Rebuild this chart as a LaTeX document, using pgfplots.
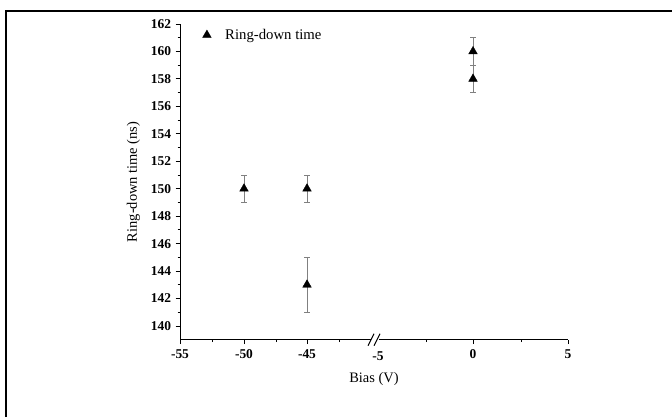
\documentclass[border=0pt]{standalone}
\usepackage{fontspec}
\setmainfont{Liberation Serif}
\usepackage{pgfplots}
\pgfplotsset{compat=1.18}
\begin{document}
\begin{tikzpicture}[x=1bp,y=1bp]
\useasboundingbox (0,0) rectangle (672,417);
\draw[line width=2.2bp] (6,0) -- (6,406) -- (672,406);
\begin{axis}[
  at={(180bp,77.3bp)}, anchor=south west,
  scale only axis, width=388bp, height=315.7bp,
  xmin=0, xmax=388, ymin=139, ymax=162,
  axis x line*=bottom, axis y line*=left,
  axis line style={line width=1bp},
  tick align=outside,
  major tick length=4.5bp, minor tick length=2.5bp,
  tick style={black, line width=0.9bp},
  xtick={0,64,127,293,388},
  xticklabels={-55,-50,-45,0,5},
  minor xtick={32,96,159,246,341},
  extra x ticks={198}, extra x tick labels={-5},
  extra x tick style={major tick length=0pt, xticklabel style={yshift=-7bp}},
  ytick={140,142,...,162},
  minor y tick num=1,
  /pgf/number format/assume math mode=true,
  ticklabel style={font=\bfseries\fontsize{13.5}{15}\selectfont},
  xticklabel style={yshift=-1.5bp},
  yticklabel style={xshift=-1bp},
  xlabel={Bias (V)}, ylabel={Ring-down time (ns)},
  label style={font=\fontsize{14.5}{17}\selectfont},
  xlabel style={at={(axis description cs:0.5,-0.125)}, anchor=center},
  ylabel style={at={(axis description cs:-0.12,0.5)}, anchor=center},
  legend style={at={(axis description cs:0.05,0.965)}, anchor=west, draw=none, fill=none,
    font=\fontsize{14.8}{17}\selectfont, legend cell align=left},
  clip=false,
]
\addplot[only marks, mark=triangle*, mark size=5bp, black,
  error bars/.cd, y dir=both, y explicit,
  error bar style={gray, line width=0.8bp},
  error mark options={rotate=90, mark size=2.8bp, gray, line width=0.8bp}]
  table[x=u, y=t, y error=e] {
  u   t    e
  64  150  1
  127 150  1
  127 143  2
  293 160  1
  293 158  1
  };
\addlegendentry{\hspace{12bp}Ring-down time}
\coordinate (B) at (axis cs:195,139);
\end{axis}
\fill[white] ([xshift=-4bp,yshift=-1.5bp]B) rectangle ([xshift=4bp,yshift=1.5bp]B);
\draw[line width=1bp] ([xshift=-7bp,yshift=-6bp]B) -- ([xshift=-1bp,yshift=6bp]B);
\draw[line width=1bp] ([xshift=-1bp,yshift=-6bp]B) -- ([xshift=5bp,yshift=6bp]B);
\end{tikzpicture}
\end{document}
